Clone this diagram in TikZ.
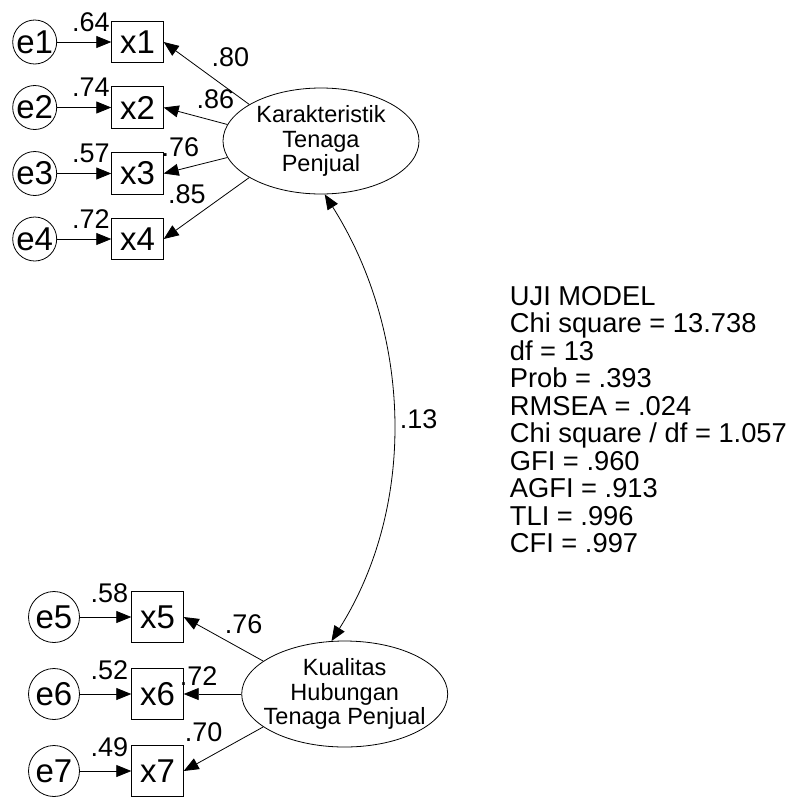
\documentclass[tikz,border=0pt]{standalone}
\usepackage{fontspec}
\setmainfont{Liberation Sans}
\usetikzlibrary{shapes.geometric,arrows.meta}

\begin{document}
\begin{tikzpicture}[x=1pt,y=-1pt,
  errtop/.style={draw, circle, line width=0.8pt, inner sep=0pt, minimum size=44pt,
    font=\fontsize{33}{33}\selectfont},
  errbot/.style={errtop, minimum size=51pt},
  obstop/.style={draw, rectangle, line width=0.8pt, inner sep=0pt,
    minimum width=51.6pt, minimum height=41.7pt, font=\fontsize{33}{33}\selectfont},
  obsbot/.style={obstop, minimum height=51pt},
  latent/.style={draw, ellipse, line width=0.8pt, inner xsep=-12pt, inner ysep=0pt,
    align=center, font=\fontsize{23.5}{24.3}\selectfont},
  coef/.style={inner sep=0pt, font=\fontsize{27}{27}\selectfont},
  arr/.style={-{Triangle[length=15pt,width=12pt]}, line width=0.8pt},
  dblarr/.style={{Triangle[length=15pt,width=12pt]}-{Triangle[length=15pt,width=12pt]}, line width=0.8pt},
]
\useasboundingbox (0,0) rectangle (797,796);

% first construct: Karakteristik Tenaga Penjual
\node[latent, minimum width=196pt, minimum height=106pt] (K) at (321,141)
  {Karakteristik\\Tenaga\\Penjual};
\foreach \i/\y in {1/42,2/107.5,3/173.5,4/239}{
  \node[errtop] (e\i) at (34.7,\y) {e\i};
  \node[obstop] (x\i) at (137.5,\y) {x\i};
  \draw[arr] (e\i) -- (x\i);
}
\draw[arr] (K.153) -- (x1.east);
\draw[arr] (K.170) -- (x2.east);
\draw[arr] (K.190) -- (x3.east);
\draw[arr] (K.207) -- (x4.east);

\node[coef, anchor=base east] (r1) at ([shift={(-1.5,10.5)}]x1.north west) {.64};
\node[coef, anchor=base east] (r2) at ([shift={(-1.5,10.5)}]x2.north west) {.74};
\node[coef, anchor=base east] (r3) at ([shift={(-1.5,10.5)}]x3.north west) {.57};
\node[coef, anchor=base east] (r4) at ([shift={(-1.5,10.5)}]x4.north west) {.72};

\node[coef, anchor=base west] (l1) at (211.5,66.7) {.80};
\node[coef, anchor=base west] (l2) at (196.5,108.3) {.86};
\node[coef, anchor=base west] (l3) at (161.5,156.7) {.76};
\node[coef, anchor=base west] (l4) at (168,203.3) {.85};

% second construct: Kualitas Hubungan Tenaga Penjual
\node[latent, minimum width=206pt, minimum height=106pt] (Q) at (344.7,694)
  {Kualitas\\Hubungan\\Tenaga Penjual};
\foreach \i/\y in {5/617,6/694,7/771}{
  \node[errbot] (e\i) at (54,\y) {e\i};
  \node[obsbot] (x\i) at (157.5,\y) {x\i};
  \draw[arr] (e\i) -- (x\i);
}
\draw[arr] (Q.158) -- (x5.east);
\draw[arr] (Q.180) -- (x6.east);
\draw[arr] (Q.202) -- (x7.east);

\node[coef, anchor=base east] (r5) at ([shift={(-3,11.5)}]x5.north west) {.58};
\node[coef, anchor=base east] (r6) at ([shift={(-3,11)}]x6.north west) {.52};
\node[coef, anchor=base east] (r7) at ([shift={(-3,11)}]x7.north west) {.49};

\node[coef, anchor=base west] (l5) at (224.7,633.3) {.76};
\node[coef, anchor=base west] (l6) at (179.7,685) {.72};
\node[coef, anchor=base west] (l7) at (184.7,741.7) {.70};

% correlation between the two constructs
\draw[dblarr] (K.274) .. controls (411,331) and (418,504) .. (Q.104);
\node[coef, anchor=base west] (corr) at (399.7,428) {.13};

% model fit summary
\node[inner sep=0pt, anchor=north west, align=left,
  font=\fontsize{27.3}{27.5}\selectfont] (fit) at (509.7,286)
  {UJI MODEL\\Chi square = 13.738\\df = 13\\Prob = .393\\RMSEA = .024\\Chi square / df = 1.057\\GFI = .960\\AGFI = .913\\TLI = .996\\CFI = .997};
\end{tikzpicture}
\end{document}
